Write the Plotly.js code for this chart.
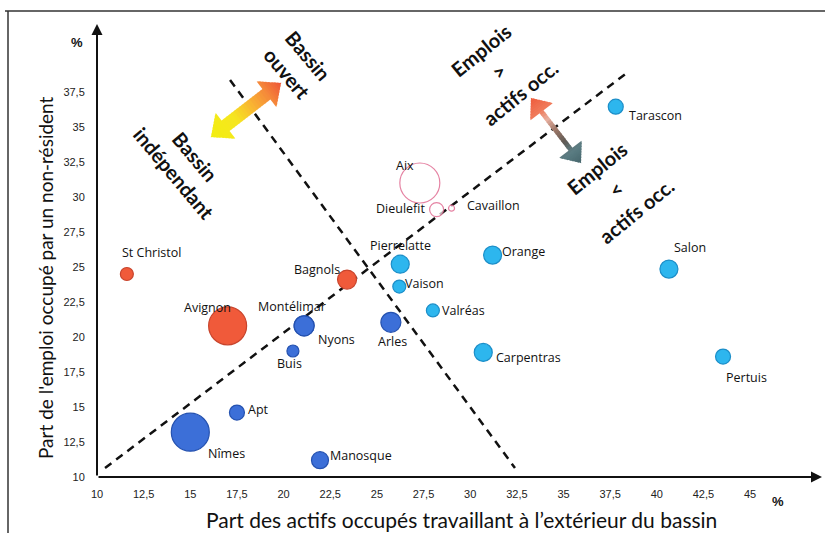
<!DOCTYPE html>
<html>
<head>
<meta charset="utf-8">
<script src="https://cdn.plot.ly/plotly-3.0.1.min.js"></script>
<style>html,body{margin:0;padding:0;background:#fff;}#chart{width:825px;height:533px;}</style>
</head>
<body>
<div id="chart"></div>
<script>
// ---------- DATA ----------
const redNames = ['St Christol', 'Avignon', 'Bagnols'];
const redX = [11.6, 17.0, 23.4];
const redY = [24.5, 20.8, 24.1];
const redSize = [13, 38, 19];

const blueNames = ['Montélimar', 'Nyons', 'Buis', 'Apt', 'Nîmes', 'Manosque', 'Arles'];
const blueX = [21.1, 21.1, 20.5, 17.5, 15.0, 21.95, 25.75];
const blueY = [20.8, 20.8, 19.0, 14.6, 13.2, 11.2, 21.05];
const blueSize = [20, 20, 12, 15, 38, 17, 20];

const lightNames = ['Pierrelatte', 'Vaison', 'Valréas', 'Orange', 'Carpentras', 'Salon', 'Pertuis', 'Tarascon'];
const lightX = [26.25, 26.2, 28.0, 31.2, 30.7, 40.65, 43.55, 37.8];
const lightY = [25.2, 23.6, 21.9, 25.85, 18.9, 24.85, 18.6, 36.45];
const lightSize = [18, 13, 13, 18, 18, 18, 15, 15];

const fadedNames = ['Aix', 'Dieulefit', 'Cavaillon'];
const fadedX = [27.3, 28.2, 29.0];
const fadedY = [31.0, 29.1, 29.2];
const fadedSize = [40, 14, 6];

const xTicks = [10, 12.5, 15, 17.5, 20, 22.5, 25, 27.5, 30, 32.5, 35, 37.5, 40, 42.5, 45];
const xTickText = ['10', '12,5', '15', '17,5', '20', '22,5', '25', '27,5', '30', '32,5', '35', '37,5', '40', '42,5', '45'];
const yTicks = [10, 12.5, 15, 17.5, 20, 22.5, 25, 27.5, 30, 32.5, 35, 37.5];
const yTickText = ['10', '12,5', '15', '17,5', '20', '22,5', '25', '27,5', '30', '32,5', '35', '37,5'];

// guide lines (dashed)
const diagX = [10.43, 38.46];
const diagY = [10.64, 38.93];
const antiX = [17.13, 32.40];
const antiY = [38.36, 10.64];

// ---------- LAYOUT GEOMETRY ----------
const W = 825, H = 533;
const M = {l: 97, r: 8, t: 28, b: 56};
const pw = W - M.l - M.r, ph = H - M.t - M.b;
const pxPerX = 18.66, pxPerY = 14;
const xRange = [10, 10 + pw / pxPerX];
const yRange = [10, 10 + ph / pxPerY];
const px2x = px => xRange[0] + (px - M.l) / pxPerX;
const py2y = py => yRange[0] + (H - M.b - py) / pxPerY;
const px2p = px => (px - M.l) / pw;
const py2p = py => (H - M.b - py) / ph;

const labelFont = {family: '"Open Sans", Lato, sans-serif', size: 12.5, color: '#111'};

// label placement: [xshift, yshift, xanchor]
const labelPos = {
  'St Christol': [-7, 22, 'left'], 'Avignon': [5, 18, 'right'], 'Bagnols': [-5, 10, 'right'],
  'Montélimar': [-12, 19, 'center'], 'Nyons': [12, -14, 'left'], 'Buis': [-3, -12, 'center'],
  'Apt': [9, 3, 'left'], 'Nîmes': [16, -21, 'left'], 'Manosque': [8, 5, 'left'],
  'Arles': [2, -19, 'center'], 'Pierrelatte': [0, 19, 'center'], 'Vaison': [4, 3, 'left'],
  'Valréas': [7, 0, 'left'], 'Orange': [7, 4, 'left'], 'Carpentras': [11, -5, 'left'],
  'Salon': [21, 22, 'center'], 'Pertuis': [23, -21, 'center'], 'Tarascon': [11, -9, 'left'],
  'Aix': [-15, 18, 'center'], 'Dieulefit': [-10, 1, 'right'], 'Cavaillon': [13, 3, 'left']
};

function markerTrace(names, xs, ys, sizes, fill, edge) {
  return {
    type: 'scatter', mode: 'markers', x: xs, y: ys, text: names, hoverinfo: 'text',
    marker: {size: sizes, color: fill, opacity: 1, line: {color: edge, width: 1.2}},
    showlegend: false, cliponaxis: false
  };
}

const traces = [
  {type: 'scatter', mode: 'lines', x: diagX, y: diagY, line: {color: '#111', width: 2.5, dash: '8px,6px'}, showlegend: false, hoverinfo: 'skip'},
  {type: 'scatter', mode: 'lines', x: antiX, y: antiY, line: {color: '#111', width: 2.5, dash: '8px,6px'}, showlegend: false, hoverinfo: 'skip'},
  markerTrace(fadedNames, fadedX, fadedY, fadedSize, 'rgba(255,255,255,0.7)', 'rgba(222,100,140,0.8)'),
  markerTrace(redNames, redX, redY, redSize, '#F05A3A', '#C8442C'),
  markerTrace(blueNames, blueX, blueY, blueSize, '#3C6FD8', '#2552B0'),
  markerTrace(lightNames, lightX, lightY, lightSize, '#2DB6EE', '#1C8EC8')
];

const annotations = [];
function addLabels(names, xs, ys) {
  names.forEach((n, i) => {
    const p = labelPos[n] || [8, 0, 'left'];
    annotations.push({x: xs[i], y: ys[i], xref: 'x', yref: 'y', text: n, showarrow: false,
      xshift: p[0], yshift: p[1], xanchor: p[2], yanchor: 'middle', font: labelFont});
  });
}
addLabels(redNames, redX, redY);
addLabels(blueNames, blueX, blueY);
addLabels(lightNames, lightX, lightY);
addLabels(fadedNames, fadedX, fadedY);

// axis arrows
annotations.push({x: xRange[0], y: py2y(24), ax: xRange[0], ay: yRange[0], xref: 'x', yref: 'y', axref: 'x', ayref: 'y',
  text: '', showarrow: true, arrowhead: 2, arrowsize: 1.1, arrowwidth: 2, arrowcolor: '#111'});
annotations.push({x: px2x(822), y: yRange[0], ax: xRange[0], ay: yRange[0], xref: 'x', yref: 'y', axref: 'x', ayref: 'y',
  text: '', showarrow: true, arrowhead: 2, arrowsize: 1.1, arrowwidth: 2, arrowcolor: '#111'});

function paperText(text, cx, cy, font, angle) {
  annotations.push({x: px2p(cx), y: py2p(cy), xref: 'paper', yref: 'paper', showarrow: false,
    xanchor: 'center', yanchor: 'middle', text: text, textangle: angle || 0, font: font});
}

// % units
const pctFont = {family: 'Liberation Sans, Arial, sans-serif', size: 13, color: '#111'};
paperText('<b>%</b>', 77, 42, pctFont);
paperText('<b>%</b>', 778, 501, pctFont);

// axis titles
paperText('Part des actifs occupés travaillant à l’extérieur du bassin', 461, 519,
  {family: 'Lato, sans-serif', size: 21, color: '#111'});
paperText('Part de l\'emploi occupé par un non-résident', 45, 278,
  {family: 'Lato, sans-serif', size: 19, color: '#111'}, -90);

// rotated bold notes: [text, cx, cy, angle]
const notes = [
  ['Bassin', 308, 55, 50], ['ouvert', 287, 73, 50],
  ['Bassin', 195, 156, 50], ['indépendant', 174, 173, 50],
  ['Emplois', 481, 50, -39], ['>', 499, 71, -39], ['actifs occ.', 520, 93, -39],
  ['Emplois', 597, 168, -39], ['<', 616, 189, -39], ['actifs occ.', 636, 211, -39]
];
const noteFont = {family: 'Lato, sans-serif', size: 20, color: '#111'};
notes.forEach(n => paperText('<b>' + n[0] + '</b>', n[1], n[2], noteFont, n[3]));

// ---------- gradient double arrows (decoration) ----------
function hexToRgb(h) { h = h.replace('#', ''); return [0, 2, 4].map(i => parseInt(h.substr(i, 2), 16)); }
function colorAt(stops, t) {
  for (let i = 0; i < stops.length - 1; i++) {
    const a = stops[i], b = stops[i + 1];
    if (t >= a[0] && t <= b[0]) {
      const f = (t - a[0]) / (b[0] - a[0] || 1);
      const ca = hexToRgb(a[1]), cb = hexToRgb(b[1]);
      return 'rgb(' + ca.map((v, k) => Math.round(v + (cb[k] - v) * f)).join(',') + ')';
    }
  }
  return stops[stops.length - 1][1];
}
const shapes = [];
function gradArrow(ax, ay, bx, by, headLen, headHalf, shaftHalf, stops) {
  const L = Math.hypot(bx - ax, by - ay);
  const ux = (bx - ax) / L, uy = (by - ay) / L, nx = -uy, ny = ux;
  const before = s => s <= headLen ? headHalf * s / headLen : (s <= L - headLen ? shaftHalf : headHalf * (L - s) / headLen);
  const after = s => s < headLen ? headHalf * s / headLen : (s < L - headLen ? shaftHalf : headHalf * (L - s) / headLen);
  const cuts = [];
  const nh = 8, ns = 16;
  for (let i = 0; i <= nh; i++) cuts.push(headLen * i / nh);
  for (let i = 1; i <= ns; i++) cuts.push(headLen + (L - 2 * headLen) * i / ns);
  for (let i = 1; i <= nh; i++) cuts.push(L - headLen + headLen * i / nh);
  const P = (s, w) => [px2x(ax + ux * s + nx * w), py2y(ay + uy * s + ny * w)];
  for (let i = 0; i < cuts.length - 1; i++) {
    const s0 = cuts[i], s1 = cuts[i + 1];
    const w0 = after(s0), w1 = before(s1);
    const e = 0.4;
    const pts = [P(s0 - e, w0), P(s1 + e, w1), P(s1 + e, -w1), P(s0 - e, -w0)];
    const col = colorAt(stops, (s0 + s1) / 2 / L);
    shapes.push({type: 'path', xref: 'x', yref: 'y', layer: 'above',
      path: 'M' + pts.map(p => p[0] + ',' + p[1]).join('L') + 'Z',
      fillcolor: col, line: {width: 0}});
  }
}
gradArrow(211, 137, 281, 83, 18, 16, 6.5,
  [[0, '#F2EE10'], [0.35, '#F6E620'], [0.6, '#F9B233'], [0.8, '#F58A3A'], [1, '#EE5638']]);
gradArrow(531, 98, 581, 163, 17, 14, 2.5,
  [[0, '#EE5A3A'], [0.2, '#F07A5A'], [0.33, '#E8B0A0'], [0.5, '#9A7566'], [0.68, '#5E5A55'], [0.82, '#5C7E84'], [1, '#46666C']]);

// frame
shapes.push({type: 'line', xref: 'paper', yref: 'paper', x0: px2p(5), x1: px2p(825), y0: py2p(11), y1: py2p(11), line: {color: '#333', width: 1.5}});
shapes.push({type: 'line', xref: 'paper', yref: 'paper', x0: px2p(8), x1: px2p(8), y0: py2p(11), y1: py2p(533), line: {color: '#333', width: 1.5}});

const layout = {
  width: W, height: H, margin: M,
  paper_bgcolor: '#fff', plot_bgcolor: '#fff',
  showlegend: false,
  xaxis: {range: xRange, tickvals: xTicks, ticktext: xTickText, showgrid: false, zeroline: false, showline: false,
    ticks: 'outside', ticklen: 7, tickcolor: 'rgba(0,0,0,0)',
    tickfont: {family: 'Liberation Sans, Arial, sans-serif', size: 11, color: '#222'}},
  yaxis: {range: yRange, tickvals: yTicks, ticktext: yTickText, showgrid: false, zeroline: false, showline: false,
    ticks: 'outside', ticklen: 9, tickcolor: 'rgba(0,0,0,0)',
    tickfont: {family: 'Liberation Sans, Arial, sans-serif', size: 11, color: '#222'}},
  annotations: annotations,
  shapes: shapes
};
Plotly.newPlot('chart', traces, layout, {displayModeBar: false, staticPlot: true});
</script>
</body>
</html>
